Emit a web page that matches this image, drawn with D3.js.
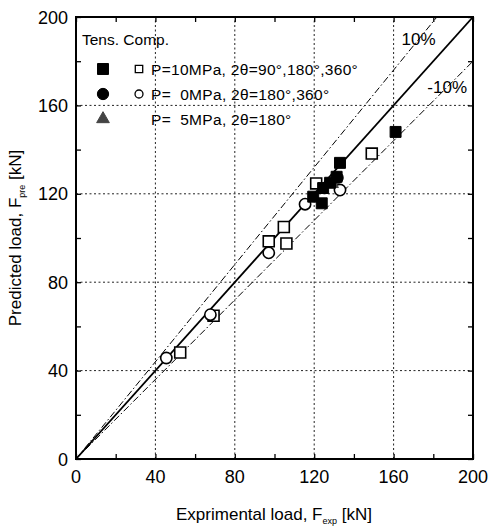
<!DOCTYPE html>
<html>
<head>
<meta charset="utf-8">
<script src="https://cdn.jsdelivr.net/npm/d3@7"></script>
<style>
  body { margin: 0; background: #fff; }
  svg { font-family: "Liberation Sans", Arial, sans-serif; }
</style>
</head>
<body>
<svg></svg>
<script>
var width = 489;
var height = 527;

// data: [F_exp, F_pre]
var tensP10 = [[119.5, 118.7], [123.8, 115.7], [124.5, 122.6], [128, 125], [131.3, 127.7], [133, 134], [161, 148]];
var tensP0 = [[131.8, 127.3]];
var tensP5 = [[129, 124.5]];
var compP10 = [[149, 138.2], [121, 124.7], [104.7, 105], [97.1, 98.5], [106, 97.5], [52.5, 48.2], [69.3, 64.8]];
var compP0 = [[133, 121.7], [115.4, 115.3], [97.1, 93.3], [45.5, 45.7], [67.7, 65.3]];

var ticks = [0, 40, 80, 120, 160, 200];
var minorTicks = [20, 60, 100, 140, 180];
var legendRows = [
  { label: "P=10MPa, 2\u03b8=90\u00b0,180\u00b0,360\u00b0", tens: "square", comp: "square" },
  { label: "P=  0MPa, 2\u03b8=180\u00b0,360\u00b0", tens: "circle", comp: "circle" },
  { label: "P=  5MPa, 2\u03b8=180\u00b0", tens: "triangle", comp: null }
];

var x = d3.scaleLinear().domain([0, 200]).range([76, 473]);
var y = d3.scaleLinear().domain([0, 200]).range([459, 17]);

var svg = d3.select("svg")
    .attr("width", width)
    .attr("height", height);

// grid
var grid = svg.append("g").attr("stroke", "#222").attr("stroke-width", 1).attr("stroke-dasharray", "2,2.5");
grid.selectAll(".gx")
  .data(ticks.slice(1, -1))
  .enter().append("line")
    .attr("x1", d => x(d)).attr("x2", d => x(d))
    .attr("y1", y(0)).attr("y2", y(200));
grid.selectAll(".gy")
  .data(ticks.slice(1, -1))
  .enter().append("line")
    .attr("y1", d => y(d)).attr("y2", d => y(d))
    .attr("x1", x(0)).attr("x2", x(200));

// axes with inward ticks
function inward(axis, sel) {
  sel.call(axis);
  sel.select(".domain").remove();
  sel.selectAll("text").remove();
  sel.selectAll("line").attr("stroke", "#000").attr("stroke-width", 1.3);
}
var allTicks = ticks.concat(minorTicks);
inward(d3.axisBottom(x).tickValues(allTicks).tickSize(-5), svg.append("g").attr("transform", `translate(0,${y(0)})`));
inward(d3.axisTop(x).tickValues(allTicks).tickSize(-5), svg.append("g").attr("transform", `translate(0,${y(200)})`));
inward(d3.axisLeft(y).tickValues(allTicks).tickSize(-5), svg.append("g").attr("transform", `translate(${x(0)},0)`));
inward(d3.axisRight(y).tickValues(allTicks).tickSize(-5), svg.append("g").attr("transform", `translate(${x(200)},0)`));

svg.append("rect")
    .attr("x", x(0)).attr("y", y(200))
    .attr("width", x(200) - x(0)).attr("height", y(0) - y(200))
    .attr("fill", "none").attr("stroke", "#000").attr("stroke-width", 2);

// tick labels
svg.append("g").selectAll("text")
  .data(ticks)
  .enter().append("text")
    .attr("x", d => x(d)).attr("y", 483)
    .attr("text-anchor", "middle")
    .style("font-size", "18px")
    .text(d => d);
svg.append("g").selectAll("text")
  .data(ticks)
  .enter().append("text")
    .attr("x", 68).attr("y", d => y(d) + 6.5)
    .attr("text-anchor", "end")
    .style("font-size", "18px")
    .text(d => d);

// axis titles
var xt = svg.append("text")
    .attr("x", 274).attr("y", 520)
    .attr("text-anchor", "middle")
    .style("font-size", "17px");
xt.append("tspan").text("Exprimental load, F");
xt.append("tspan").attr("dy", 4).style("font-size", "9px").text("exp");
xt.append("tspan").attr("dy", -4).text(" [kN]");

var yt = svg.append("text")
    .attr("transform", `translate(21,238) rotate(-90)`)
    .attr("text-anchor", "middle")
    .style("font-size", "17px");
yt.append("tspan").text("Predicted load, F");
yt.append("tspan").attr("dy", 4).style("font-size", "9px").text("pre");
yt.append("tspan").attr("dy", -4).text(" [kN]");

// reference lines
var plot = svg.append("g");
svg.append("clipPath").attr("id", "clip")
  .append("rect")
    .attr("x", x(0)).attr("y", y(200))
    .attr("width", x(200) - x(0)).attr("height", y(0) - y(200));
plot.attr("clip-path", "url(#clip)");

var refLines = [
  { k: 1.0, dash: null, w: 1.8 },
  { k: 1.1, dash: "7,2.5,1.5,2.5", w: 1 },
  { k: 0.9, dash: "7,2.5,1.5,2.5", w: 1 }
];
plot.selectAll(".ref")
  .data(refLines)
  .enter().append("line")
    .attr("x1", x(0)).attr("y1", y(0))
    .attr("x2", x(200)).attr("y2", d => y(200 * d.k))
    .attr("stroke", "#000")
    .attr("stroke-width", d => d.w)
    .attr("stroke-dasharray", d => d.dash);

svg.append("text").attr("x", x(164)).attr("y", y(187.5))
    .style("font-size", "17px").text("10%");
svg.append("text").attr("x", x(177)).attr("y", y(165.5))
    .style("font-size", "17px").text("-10%");

// markers
var sym = {
  square: d3.symbol().type(d3.symbolSquare).size(120),
  circle: d3.symbol().type(d3.symbolCircle).size(100),
  triangle: d3.symbol().type(d3.symbolTriangle).size(70)
};

function drawSeries(data, shape, filled, color) {
  svg.append("g").selectAll("path")
    .data(data)
    .enter().append("path")
      .attr("d", sym[shape]())
      .attr("transform", d => `translate(${x(d[0])},${y(d[1])})`)
      .attr("fill", filled ? color : "#fff")
      .attr("stroke", color)
      .attr("stroke-width", filled ? 1 : 1.6);
}
drawSeries(compP10, "square", false, "#000");
drawSeries(compP0, "circle", false, "#000");
drawSeries(tensP5, "triangle", true, "#444");
drawSeries(tensP10, "square", true, "#000");
drawSeries(tensP0, "circle", true, "#000");

// legend
svg.append("text").attr("x", 82).attr("y", 45)
    .style("font-size", "15.5px").text("Tens. Comp.");
var legend = svg.append("g").selectAll("g")
  .data(legendRows)
  .enter().append("g")
    .attr("transform", (d, i) => `translate(0,${69 + i * 25})`);
legend.append("path")
    .attr("d", d => sym[d.tens]())
    .attr("transform", "translate(103,0)")
    .attr("fill", d => d.tens === "triangle" ? "#444" : "#000")
    .attr("stroke", d => d.tens === "triangle" ? "#444" : "#000");
legend.filter(d => d.comp).append("path")
    .attr("d", d => d3.symbol().type(d.comp === "square" ? d3.symbolSquare : d3.symbolCircle).size(d.comp === "square" ? 55 : 50)())
    .attr("transform", "translate(139,0)")
    .attr("fill", "#fff")
    .attr("stroke", "#000")
    .attr("stroke-width", 1.3);
legend.append("text")
    .attr("x", 151).attr("y", 5.5)
    .style("font-size", "15.5px")
    .style("letter-spacing", "0.3px")
    .style("white-space", "pre")
    .text(d => d.label);
</script>
</body>
</html>
